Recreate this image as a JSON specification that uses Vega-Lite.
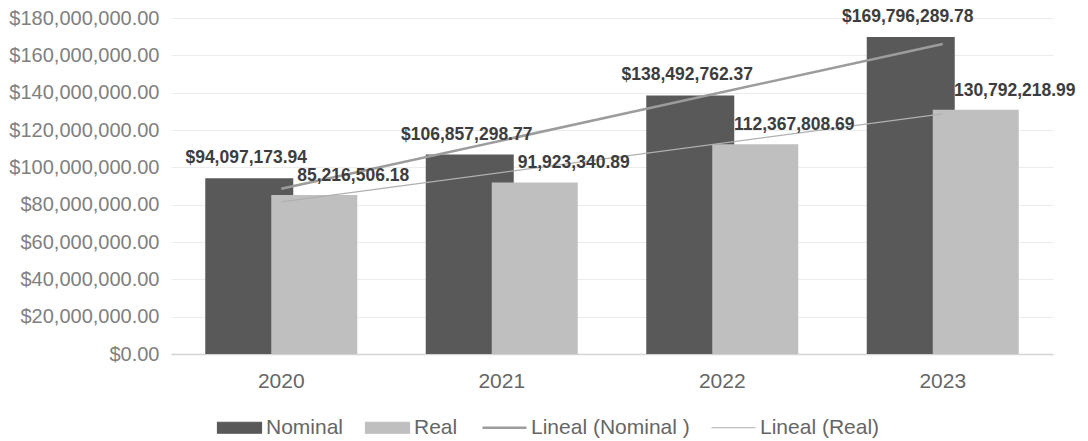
{
  "$schema": "https://vega.github.io/schema/vega-lite/v6.json",
  "width": 882,
  "height": 336,
  "autosize": {"type": "none"},
  "padding": {"left": 171, "top": 18, "right": 35, "bottom": 87},
  "background": "white",
  "config": {"view": {"stroke": null}, "font": "Liberation Sans"},
  "data": {
    "values": [
      {"year": 2020, "Nominal": 94097173.94, "Real": 85216506.18},
      {"year": 2021, "Nominal": 106857298.77, "Real": 91923340.89},
      {"year": 2022, "Nominal": 138492762.37, "Real": 112367808.69},
      {"year": 2023, "Nominal": 169796289.78, "Real": 130792218.99}
    ]
  },
  "encoding": {
    "x": {
      "field": "year",
      "type": "ordinal",
      "scale": {"domain": [2020, 2021, 2022, 2023], "paddingInner": 0, "paddingOuter": 0},
      "axis": {
        "title": null,
        "labelAngle": 0,
        "labelFontSize": 21,
        "labelColor": "#666666",
        "labelPadding": 16,
        "ticks": false,
        "domainColor": "#d4d4d4",
        "domainWidth": 1.5,
        "grid": false
      }
    }
  },
  "layer": [
    {
      "mark": {"type": "bar", "width": 88, "xOffset": -32},
      "encoding": {
        "y": {
          "field": "Nominal",
          "type": "quantitative",
          "scale": {"domain": [0, 180000000], "nice": false},
          "axis": {
            "title": null,
            "values": [0, 20000000, 40000000, 60000000, 80000000, 100000000, 120000000, 140000000, 160000000, 180000000],
            "format": "$,.2f",
            "labelFontSize": 20,
            "labelColor": "#808080",
            "labelPadding": 12,
            "ticks": false,
            "domain": false,
            "gridColor": "#ececec",
            "gridWidth": 1.2
          }
        },
        "color": {
          "datum": "Nominal",
          "type": "nominal",
          "scale": {
            "domain": ["Nominal", "Real", "Lineal (Nominal )", "Lineal (Real)"],
            "range": ["#595959", "#bfbfbf", "#9c9c9c", "#b0b0b0"]
          },
          "legend": {
            "orient": "none",
            "legendX": 58,
            "legendY": 399,
            "direction": "horizontal",
            "title": null,
            "padding": 0,
            "labelFontSize": 21,
            "labelColor": "#666666",
            "labelOffset": 16,
            "columnPadding": 19,
            "symbolSize": 1936,
            "encode": {
              "symbols": {
                "update": {
                  "shape": {"signal": "(datum.value === 'Nominal' || datum.value === 'Real') ? 'M-1,-0.25H1V0.25H-1Z' : 'M-1,0H1'"},
                  "fill": {"signal": "datum.value === 'Nominal' ? '#595959' : (datum.value === 'Real' ? '#bfbfbf' : 'transparent')"},
                  "stroke": {"signal": "datum.value === 'Lineal (Nominal )' ? '#9c9c9c' : (datum.value === 'Lineal (Real)' ? '#b0b0b0' : 'transparent')"},
                  "strokeWidth": {"signal": "datum.value === 'Lineal (Nominal )' ? 2.5 : 1.2"},
                  "opacity": {"value": 1}
                }
              }
            }
          }
        }
      }
    },
    {
      "mark": {"type": "bar", "width": 86, "xOffset": 33},
      "encoding": {
        "y": {"field": "Real", "type": "quantitative", "axis": {"title": null, "values": [0, 20000000, 40000000, 60000000, 80000000, 100000000, 120000000, 140000000, 160000000, 180000000], "format": "$,.2f"}},
        "color": {"datum": "Real", "type": "nominal"}
      }
    },
    {
      "transform": [{"regression": "Nominal", "on": "year", "method": "linear"}],
      "mark": {"type": "line", "strokeWidth": 2.5},
      "encoding": {
        "y": {"field": "Nominal", "type": "quantitative", "axis": {"title": null, "values": [0, 20000000, 40000000, 60000000, 80000000, 100000000, 120000000, 140000000, 160000000, 180000000], "format": "$,.2f"}},
        "color": {"datum": "Lineal (Nominal )", "type": "nominal"}
      }
    },
    {
      "transform": [{"regression": "Real", "on": "year", "method": "linear"}],
      "mark": {"type": "line", "strokeWidth": 1.2},
      "encoding": {
        "y": {"field": "Real", "type": "quantitative", "axis": {"title": null, "values": [0, 20000000, 40000000, 60000000, 80000000, 100000000, 120000000, 140000000, 160000000, 180000000], "format": "$,.2f"}},
        "color": {"datum": "Lineal (Real)", "type": "nominal"}
      }
    },
    {
      "mark": {"type": "text", "font": "Liberation Sans", "fontWeight": "bold", "fontSize": 17.5, "color": "#3d3d3d", "baseline": "middle", "dy": -20, "xOffset": -35},
      "encoding": {
        "y": {"field": "Nominal", "type": "quantitative", "axis": {"title": null, "values": [0, 20000000, 40000000, 60000000, 80000000, 100000000, 120000000, 140000000, 160000000, 180000000], "format": "$,.2f"}},
        "text": {"field": "Nominal", "type": "quantitative", "format": "$,.2f"}
      }
    },
    {
      "mark": {"type": "text", "font": "Liberation Sans", "fontWeight": "bold", "fontSize": 17.5, "color": "#3d3d3d", "baseline": "middle", "dy": -19, "xOffset": 72},
      "encoding": {
        "y": {"field": "Real", "type": "quantitative", "axis": {"title": null, "values": [0, 20000000, 40000000, 60000000, 80000000, 100000000, 120000000, 140000000, 160000000, 180000000], "format": "$,.2f"}},
        "text": {"field": "Real", "type": "quantitative", "format": ",.2f"}
      }
    }
  ]
}
